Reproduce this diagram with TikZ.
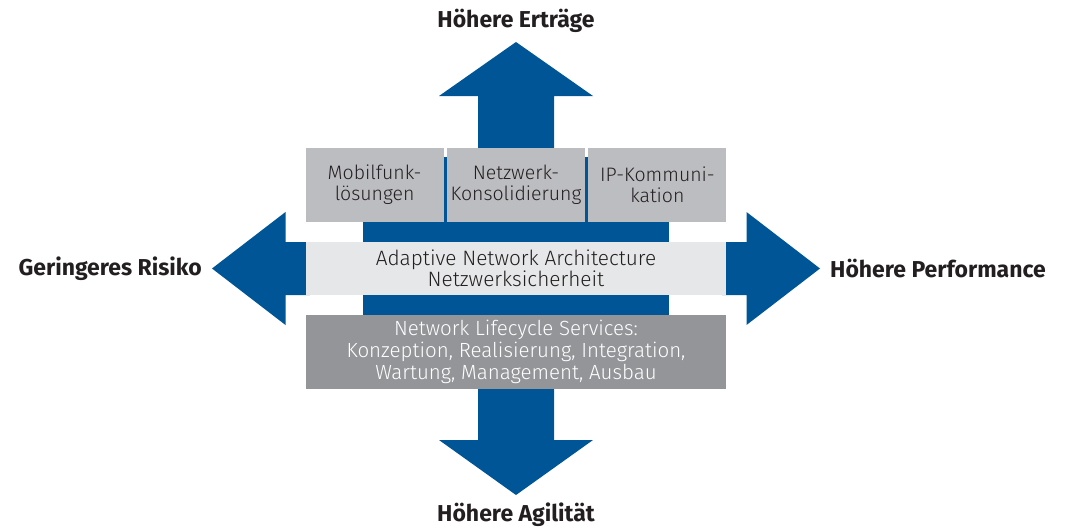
\documentclass[tikz,border=0pt]{standalone}
\usepackage{fontspec}
\setmainfont{Fira Sans}[UprightFont={* Light},BoldFont={* Bold}]
\usetikzlibrary{positioning}
\definecolor{arrowblue}{RGB}{0,85,150}
\definecolor{boxgrey}{RGB}{188,189,192}
\definecolor{bandgrey}{RGB}{230,231,232}
\definecolor{servgrey}{RGB}{147,149,152}
\definecolor{textdark}{RGB}{35,31,32}
\tikzset{topbox/.style={rectangle,fill=boxgrey,text=textdark,inner sep=0pt,align=center,minimum width=138pt,minimum height=74pt,font=\fontsize{19.5}{20.7}\selectfont}}
\tikzset{band/.style={rectangle,fill=bandgrey,text=textdark,inner sep=0pt,align=center,minimum width=420pt,minimum height=53pt,font=\fontsize{20.8}{21}\selectfont}}
\tikzset{services/.style={rectangle,fill=servgrey,text=white,inner sep=0pt,align=center,minimum width=420pt,minimum height=74pt,font=\fontsize{20.5}{21.7}\selectfont}}
\tikzset{goal/.style={inner sep=0pt,text=textdark,font=\fontsize{23}{24}\selectfont\bfseries}}
\tikzset{bigArrow/.style={fill=arrowblue}}

\begin{document}
\begin{tikzpicture}[x=1pt,y=-1pt]
\useasboundingbox (0,0) rectangle (1066,528);
% blue cross behind the layers
\fill [bigArrow] (363,157) rectangle (669,385);
\fill [bigArrow] (478,160) -- (478,96) -- (439,96) -- (516,42) -- (593,96) -- (554,96) -- (554,160) -- cycle;
\fill [bigArrow] (478,380) -- (478,440) -- (439,440) -- (516,495) -- (593,440) -- (554,440) -- (554,380) -- cycle;
\fill [bigArrow] (310,242) -- (285.5,242) -- (285.5,212) -- (212,268.5) -- (285.5,325) -- (285.5,295) -- (310,295) -- cycle;
\fill [bigArrow] (722,242) -- (746.5,242) -- (746.5,212) -- (820,268.5) -- (746.5,325) -- (746.5,295) -- (722,295) -- cycle;
\coordinate (uptip) at (516,42);
\coordinate (downtip) at (516,495);
\coordinate (lefttip) at (212,268.5);
\coordinate (righttip) at (820,268.5);

% layers
\node (konsol) [topbox] at (516,184.7) {Netzwerk-\\Konsolidierung} ;
\node (mobil) [topbox, left =3pt of konsol] {Mobilfunk-\\lösungen} ;
\node (ipkom) [topbox, right =3pt of konsol] {IP-Kommuni-\\kation} ;
\node (ana) [band] at (516,268.5) {Adaptive Network Architecture\\Netzwerksicherheit} ;
\node (nls) [services] at (516,352) {Network Lifecycle Services:\\Konzeption, Realisierung, Integration,\\Wartung, Management, Ausbau} ;

% goals
\node (ertrag) [goal, above =9pt of uptip] {Höhere Erträge} ;
\node (agil) [goal, below =8pt of downtip] {Höhere Agilität} ;
\node (risiko) [goal, left =10pt of lefttip] {Geringeres Risiko} ;
\node (perf) [goal, right =10pt of righttip] {Höhere Performance} ;
\end{tikzpicture}
\end{document}
